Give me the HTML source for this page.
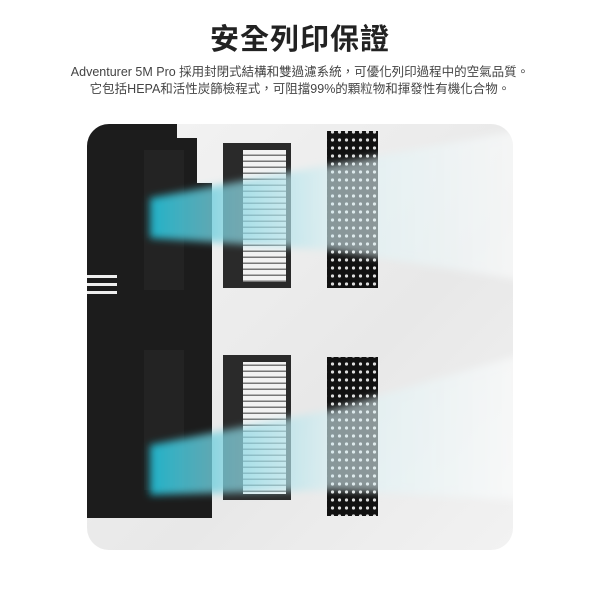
<!DOCTYPE html>
<html><head><meta charset="utf-8"><style>
body{margin:0;width:600px;height:600px;background:#fff;overflow:hidden;font-family:"Liberation Sans","Noto Sans CJK TC",sans-serif}
h1{position:absolute;top:16px;left:0;width:600px;text-align:center;margin:0;font-size:29px;font-weight:bold;color:#222;letter-spacing:1px}
.sub{position:absolute;top:64px;left:0;width:600px;text-align:center;font-size:12.5px;line-height:17px;color:#444}
svg{position:absolute;left:0;top:0}
</style></head><body>
<h1>安全列印保證</h1>
<div class="sub">Adventurer 5M Pro 採用封閉式結構和雙過濾系統，可優化列印過程中的空氣品質。<br>它包括HEPA和活性炭篩檢程式，可阻擋99%的顆粒物和揮發性有機化合物。</div>
<svg width="600" height="600">
<defs>
<linearGradient id="bg" x1="0" y1="0" x2="1" y2="1"><stop offset="0" stop-color="#f4f4f4"/><stop offset="0.6" stop-color="#e8e8e8"/><stop offset="1" stop-color="#f2f2f2"/></linearGradient>
<linearGradient id="air" x1="0" y1="0" x2="1" y2="0"><stop offset="0" stop-color="#1fb9d0" stop-opacity="0.95"/><stop offset="0.2" stop-color="#7fd3e0" stop-opacity="0.75"/><stop offset="0.5" stop-color="#d8f0f4" stop-opacity="0.6"/><stop offset="1" stop-color="#ffffff" stop-opacity="0.55"/></linearGradient>
<filter id="bl"><feGaussianBlur stdDeviation="4"/></filter>
<pattern id="dots" width="7" height="8" patternUnits="userSpaceOnUse"><rect width="7" height="8" fill="#111"/><circle cx="3.5" cy="4" r="1.6" fill="#ddd"/></pattern>
<pattern id="fins" width="6" height="6" patternUnits="userSpaceOnUse"><rect width="6" height="6" fill="#f2f2f2"/><rect y="4.5" width="6" height="1.5" fill="#777"/></pattern>
<clipPath id="cp"><rect x="87" y="124" width="426" height="426" rx="22"/></clipPath>
</defs>
<g clip-path="url(#cp)">
<rect x="87" y="124" width="426" height="426" fill="url(#bg)"/>
<path d="M87 124H177V138H197V183H212V518H87Z" fill="#1c1c1c"/>
<rect x="144" y="150" width="40" height="140" fill="#232323"/>
<rect x="144" y="350" width="40" height="140" fill="#232323"/>
<rect x="87" y="275" width="30" height="3" fill="#eee"/><rect x="87" y="283" width="30" height="3" fill="#eee"/><rect x="87" y="291" width="30" height="3" fill="#eee"/>
<rect x="223" y="143" width="68" height="145" fill="#2a2a2a"/>
<rect x="243" y="150" width="43" height="132" fill="url(#fins)"/>
<rect x="223" y="355" width="68" height="145" fill="#2a2a2a"/>
<rect x="243" y="362" width="43" height="132" fill="url(#fins)"/>
<rect x="327" y="131" width="51" height="157" fill="url(#dots)"/>
<rect x="327" y="357" width="51" height="159" fill="url(#dots)"/>
<g filter="url(#bl)">
<polygon points="150,198 330,165 520,130 520,280 330,250 150,238" fill="url(#air)"/>
<polygon points="150,445 330,410 520,355 520,500 330,490 150,495" fill="url(#air)"/>
</g>
</g>
</svg>
</body></html>
